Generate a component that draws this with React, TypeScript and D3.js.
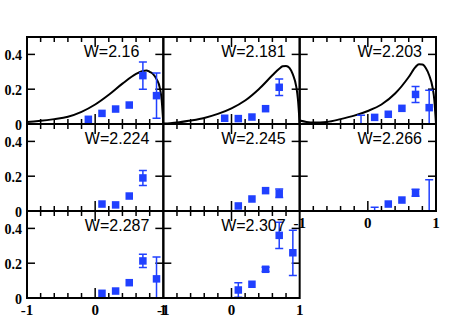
import * as d3 from 'd3';

// ── Datos ────────────────────────────────────────────────────────────────────
const wLabels = ['W=2.16', 'W=2.181', 'W=2.203', 'W=2.224', 'W=2.245', 'W=2.266', 'W=2.287', 'W=2.307'];

// cos(theta) de cada bin, por panel
const binX: number[][] = [
  [-0.1, 0.1, 0.3, 0.5, 0.7, 0.9],
  [-0.1, 0.1, 0.3, 0.5, 0.7],
  [-0.1, 0.1, 0.3, 0.5, 0.7, 0.9],
  [0.1, 0.3, 0.5, 0.7],
  [0.1, 0.3, 0.5, 0.7],
  [0.1, 0.3, 0.5, 0.7, 0.9],
  [0.1, 0.3, 0.5, 0.7, 0.9],
  [0.1, 0.3, 0.5, 0.7, 0.9],
];
const binY: number[][] = [
  [0.027, 0.061, 0.086, 0.109, 0.278, 0.163],
  [0.033, 0.031, 0.04, 0.088, 0.211],
  [-0.03, 0.038, 0.056, 0.09, 0.17, 0.094],
  [0.04, 0.035, 0.086, 0.19],
  [0.029, 0.069, 0.117, 0.102],
  [-0.03, 0.04, 0.063, 0.105, -0.03],
  [0.027, 0.04, 0.088, 0.213, 0.11],
  [0.046, 0.079, 0.165, 0.36, 0.26],
];
const binErr: number[][] = [
  [0, 0, 0, 0, 0.078, 0.13],
  [0, 0, 0, 0, 0.047],
  [0.08, 0, 0, 0, 0.046, 0.1],
  [0, 0, 0, 0.043],
  [0, 0, 0, 0.025],
  [0.052, 0, 0, 0.02, 0.21],
  [0, 0, 0, 0.038, 0.125],
  [0.042, 0, 0.012, 0.075, 0.13],
];

// curvas teóricas (solo fila superior)
const curveX = [-1, -0.9, -0.8, -0.6, -0.4, -0.2, 0, 0.2, 0.4, 0.6, 0.7, 0.75, 0.8, 0.85, 0.9, 0.95, 0.975, 1];
const curveY: number[][] = [
  [0.012, 0.015, 0.018, 0.028, 0.042, 0.07, 0.112, 0.168, 0.232, 0.288, 0.305, 0.308, 0.3, 0.287, 0.258, 0.205, 0.14, 0],
  [0.003, 0.005, 0.008, 0.02, 0.035, 0.058, 0.09, 0.135, 0.2, 0.28, 0.318, 0.332, 0.334, 0.322, 0.285, 0.215, 0.14, 0],
  [0.02, 0.012, 0.008, 0.012, 0.028, 0.048, 0.075, 0.112, 0.175, 0.27, 0.328, 0.343, 0.342, 0.322, 0.28, 0.21, 0.14, 0],
];

const yTicks = [0, 0.2, 0.4];
const yTickLabels = ['0', '0.2', '0.4'];
const xTicks = [-1, 0, 1];
const xTickLabels = ['-1', '0', '1'];
const xMinor = [-0.8, -0.6, -0.4, -0.2, 0.2, 0.4, 0.6, 0.8];

// ── Dimensiones ──────────────────────────────────────────────────────────────
const W = 465;
const H = 320;
const left = 27, right = 436, top = 37, bottom = 298;
const colW = (right - left) / 3;
const rowH = (bottom - top) / 3;
const BLUE = '#2040ff';
const serif = '"Liberation Serif", "Times New Roman", serif';
const sans = '"Liberation Sans", Arial, sans-serif';

function Panel({ i }: { i: number }) {
  const col = i % 3;
  const row = Math.floor(i / 3);
  const x0 = left + col * colW;
  const y0 = top + row * rowH;
  const x = d3.scaleLinear().domain([-1, 1]).range([x0, x0 + colW]);
  const y = d3.scaleLinear().domain([0, 0.5]).range([y0 + rowH, y0]);

  const line = d3.line<number>()
    .x((_, k) => x(curveX[k]))
    .y(d => y(d))
    .curve(d3.curveMonotoneX);

  const showX = row === 2 || i === 5;
  const labelOff = i === 0 ? 24 : 14;

  return (
    <g>
      <defs>
        <clipPath id={`clip-${i}`}>
          <rect x={x0} y={y0} width={colW} height={rowH} />
        </clipPath>
      </defs>

      {/* ticks */}
      {xMinor.map(t => (
        <g key={`m${t}`} stroke="#000" strokeWidth={1.5}>
          <line x1={x(t)} x2={x(t)} y1={y0 + rowH} y2={y0 + rowH - 5} />
          <line x1={x(t)} x2={x(t)} y1={y0} y2={y0 + 5} />
        </g>
      ))}
      <g stroke="#000" strokeWidth={1.5}>
        <line x1={x(0)} x2={x(0)} y1={y0 + rowH} y2={y0 + rowH - 10} />
        <line x1={x(0)} x2={x(0)} y1={y0} y2={y0 + 10} />
      </g>
      {yTicks.slice(1).map(t => (
        <g key={`y${t}`} stroke="#000" strokeWidth={1.5}>
          <line x1={x0} x2={x0 + 8} y1={y(t)} y2={y(t)} />
          <line x1={x0 + colW} x2={x0 + colW - 8} y1={y(t)} y2={y(t)} />
        </g>
      ))}

      <g clipPath={`url(#clip-${i})`}>
        {row === 0 && (
          <path d={line(curveY[col]) ?? ''} fill="none" stroke="#000" strokeWidth={2} />
        )}
        {binX[i].map((bx, k) => {
          const v = binY[i][k];
          const e = binErr[i][k];
          const cx = x(bx);
          return (
            <g key={k}>
              {e > 0 && (
                <g stroke={BLUE} strokeWidth={1.5}>
                  <line x1={cx} x2={cx} y1={y(v - e)} y2={y(v + e)} />
                  <line x1={cx - 4} x2={cx + 4} y1={y(v + e)} y2={y(v + e)} />
                  <line x1={cx - 4} x2={cx + 4} y1={y(v - e)} y2={y(v - e)} />
                </g>
              )}
              <rect x={cx - 3.75} y={y(v) - 3.75} width={7.5} height={7.5} fill={BLUE} />
            </g>
          );
        })}
      </g>

      <rect x={x0} y={y0} width={colW} height={rowH} fill="none" stroke="#000" strokeWidth={2} />

      <text x={x0 + colW - labelOff} y={y0 + 19.5} textAnchor="end"
        fontFamily={sans} fontSize={16} fill="#000">{wLabels[i]}</text>

      {col === 0 && yTicks.map((t, k) => (
        <text key={`yl${t}`} x={x0 - 5} y={y(t) + 1} textAnchor="end" dominantBaseline="central"
          fontFamily={serif} fontWeight="bold" fontSize={14} fill="#000">{yTickLabels[k]}</text>
      ))}
      {showX && xTicks.map((t, k) => (
        <text key={`xl${t}`} x={x(t)} y={y0 + rowH + 17} textAnchor="middle"
          fontFamily={serif} fontWeight="bold" fontSize={15} fill="#000">{xTickLabels[k]}</text>
      ))}
    </g>
  );
}

export default function App() {
  return (
    <div style={{ position: 'fixed', left: 0, top: 0 }}>
      <svg width={W} height={H} style={{ display: 'block', background: '#fff' }}>
        {wLabels.map((_, i) => <Panel key={i} i={i} />)}
      </svg>
    </div>
  );
}
